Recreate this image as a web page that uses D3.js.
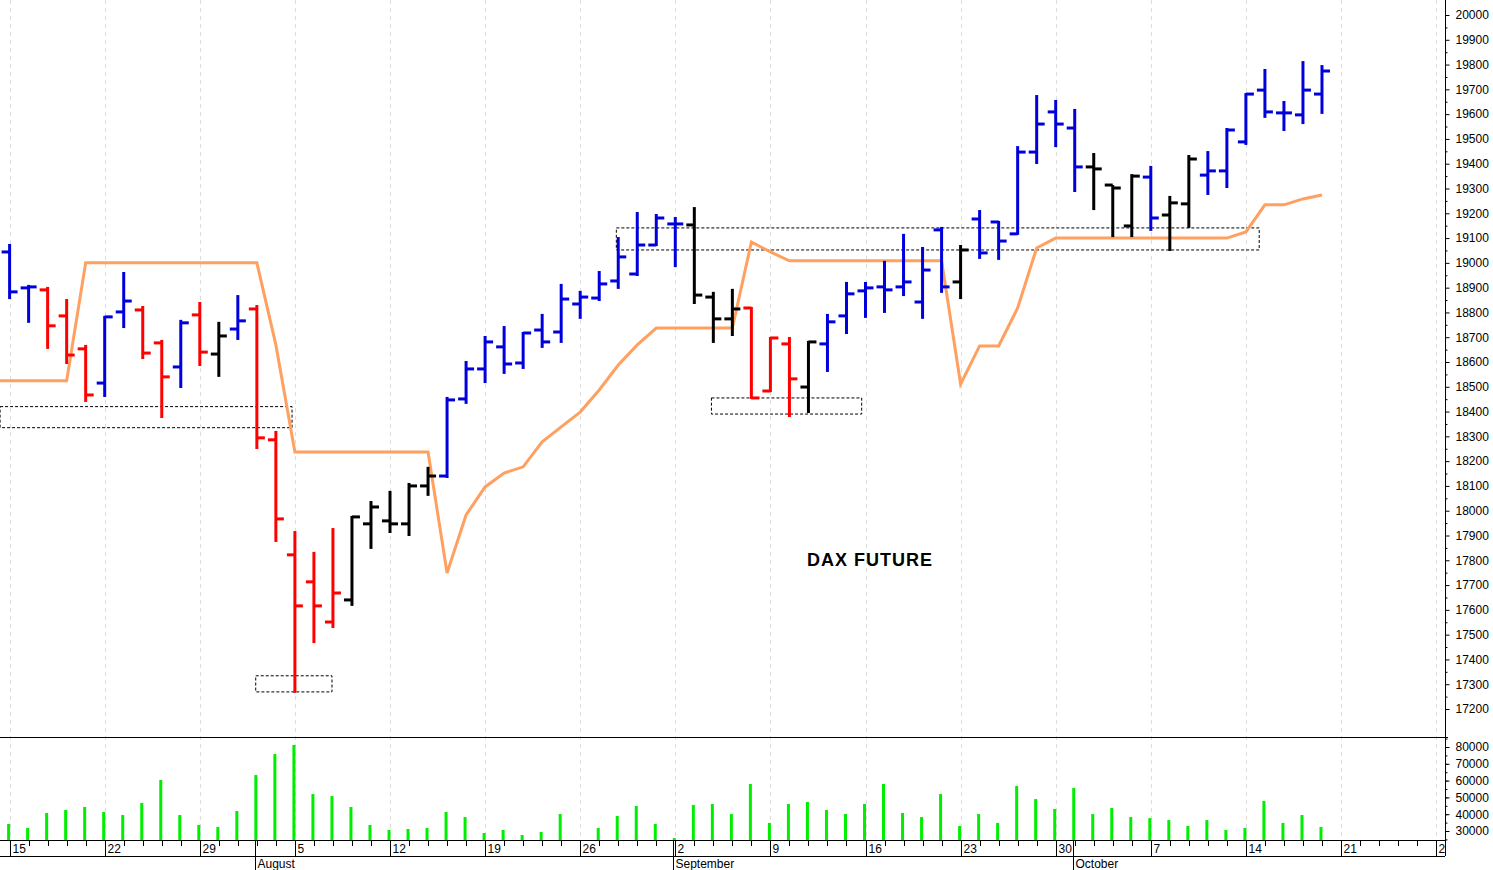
<!DOCTYPE html>
<html><head><meta charset="utf-8">
<script src="https://cdn.jsdelivr.net/npm/d3@7"></script>
<style>body{margin:0;background:#fff}svg{display:block;font-family:Arial,"Liberation Sans",sans-serif}</style>
</head><body><svg id="c" width="1493" height="870"></svg>
<script>
const opens=[19044,18899,18891,18786,18653,18515,18802,18810,18677,18580,18790,18632,18733,18814,18286,17822,17713,17551,17640,17947,17959,17947,18100,18140,18451,18572,18661,18596,18729,18721,18834,18858,18927,18955,19072,19157,19153,18862,18774,18818,18483,18673,18499,18673,18786,18887,18903,18903,18842,19133,18923,19177,19165,19117,19447,19609,19544,19387,19314,19149,19346,19193,19238,19354,19371,19488,19697,19605,19597,19681];
const highs=[19072,18907,18899,18850,18665,18782,18959,18822,18685,18766,18838,18758,18866,18826,18318,17914,17830,17926,17975,18035,18076,18108,18173,18455,18600,18701,18741,18717,18790,18911,18883,18963,19100,19201,19193,19181,19221,18879,18891,18818,18697,18697,18681,18790,18919,18919,19004,19113,19060,19141,19068,19209,19165,19467,19673,19653,19617,19439,19310,19354,19387,19266,19431,19447,19540,19681,19778,19649,19810,19794];
const lows=[18858,18762,18657,18596,18443,18463,18741,18616,18378,18499,18588,18544,18693,18253,17878,17269,17470,17531,17620,17850,17914,17902,18064,18136,18435,18519,18556,18576,18661,18681,18778,18850,18899,18951,19072,18987,18838,18681,18709,18455,18483,18382,18398,18564,18717,18782,18802,18870,18778,18883,18858,19020,19016,19117,19403,19471,19290,19217,19108,19108,19133,19052,19145,19278,19306,19480,19589,19536,19564,19605];
const closes=[18883,18903,18746,18628,18467,18782,18846,18636,18540,18758,18640,18705,18766,18294,17967,17616,17616,17668,17975,18015,17947,18100,18140,18447,18572,18681,18592,18717,18681,18854,18862,18915,19024,19072,19181,19157,18870,18774,18814,18455,18697,18532,18681,18762,18875,18899,18891,18923,18971,18903,19052,19040,19088,19447,19560,19560,19387,19379,19302,19350,19181,19242,19419,19371,19536,19681,19609,19605,19697,19774];
const barColors="bbrrrbbrrbrkbrrrrrkkkkkbbbbbbbbbbbbbkkkrrrkbbbbbbbkbbbbbbkkkbkkbbbbbbbbb";
const stopLine=[18524,18524,18524,18524,19000,19000,19000,19000,19000,19000,19000,19000,19000,19000,18669,18237,18237,18237,18237,18237,18237,18237,18237,17749,17983,18096,18152,18177,18278,18338,18398,18487,18588,18669,18737,18737,18737,18737,18737,19084,19044,19008,19008,19008,19008,19008,19008,19008,19008,19008,18511,18665,18665,18818,19060,19100,19100,19100,19100,19100,19100,19100,19100,19100,19100,19125,19234,19234,19258,19274];
const volumes=[34200,31800,40700,42500,44300,41300,39500,46700,60400,39500,33600,32400,41900,63300,75800,81200,52000,50800,44300,33600,30600,31200,31800,41300,38300,28800,30600,27600,29400,40100,24600,31800,38900,44900,34200,25800,45500,46100,40100,58000,34800,46100,47300,42500,40100,46100,58000,40700,38300,52000,33000,40100,34800,56800,49000,43100,55600,40100,43700,38300,37700,36500,33000,36500,30600,31800,47900,34800,39500,32400];
const weekLabels=["15","22","29","5","12","19","26","2","9","16","23","30","7","14","21","28"];
const weekIdx=[0,5,10,15,20,25,30,35,40,45,50,55,60,65,70,75];
const monthLabels=["August","September","October"];
const monthIdx=[13,35,56];
const priceTicks=d3.range(17200,20001,100);
const volTicks=[30000,40000,50000,60000,70000,80000];
const boxes=[[-0.5,14.85,18335,18420],[12.94,16.95,17269,17334],[31.9,65.7,19052,19141],[36.9,44.8,18390,18455]];
const title="DAX FUTURE";

const svg=d3.select("#c");
const W=1445;
const x=d3.scaleLinear().domain([0,1]).range([9.6,28.62]);
const y=d3.scaleLinear().domain([17200,20000]).range([709,15]);
const yv=d3.scaleLinear().domain([30000,80000]).range([831,747]);
const col={b:"#0000dd",r:"#ff0000",k:"#000000"};

const g=svg.append("g");
weekIdx.forEach(i=>{const xx=Math.round(x(i))+0.5;if(xx<W)g.append("line").attr("x1",xx).attr("x2",xx).attr("y1",0).attr("y2",840).attr("stroke","#ddd").attr("stroke-dasharray","4,4");});

boxes.forEach(b=>svg.append("rect").attr("x",x(b[0])).attr("width",x(b[1])-x(b[0])).attr("y",y(b[3])).attr("height",y(b[2])-y(b[3])).attr("fill","none").attr("stroke","#000").attr("stroke-dasharray","3,2"));

svg.append("path").attr("d",d3.line().x((d,i)=>i===0?0:x(i)).y(d=>y(d))(stopLine)).attr("fill","none").attr("stroke","#ffa060").attr("stroke-width",3);

opens.forEach((o,i)=>{const c=col[barColors[i]],xx=x(i);
 const gg=svg.append("g").attr("stroke",c).attr("stroke-width",3);
 gg.append("line").attr("x1",xx).attr("x2",xx).attr("y1",y(highs[i])-1).attr("y2",y(lows[i])+1);
 gg.append("line").attr("x1",xx-8).attr("x2",xx).attr("y1",y(o)).attr("y2",y(o));
 gg.append("line").attr("x1",xx).attr("x2",xx+8).attr("y1",y(closes[i])).attr("y2",y(closes[i]));
});

volumes.forEach((v,i)=>svg.append("line").attr("x1",x(i)-1).attr("x2",x(i)-1).attr("y1",yv(v)).attr("y2",840).attr("stroke","#00ee00").attr("stroke-width",3));

svg.append("text").attr("x",870).attr("y",566).attr("text-anchor","middle").attr("font-size",18).attr("font-weight","bold").attr("letter-spacing",1).text(title);

svg.append("line").attr("x1",0).attr("x2",W+3).attr("y1",737.5).attr("y2",737.5).attr("stroke","#000");
svg.append("line").attr("x1",0).attr("x2",W).attr("y1",840.5).attr("y2",840.5).attr("stroke","#000");
svg.append("line").attr("x1",0).attr("x2",W).attr("y1",856.5).attr("y2",856.5).attr("stroke","#000");
svg.append("line").attr("x1",W+0.5).attr("x2",W+0.5).attr("y1",0).attr("y2",856).attr("stroke","#000");

const ax=svg.append("g").attr("transform",`translate(${W+0.5},0)`);
ax.call(d3.axisRight(y).tickValues(priceTicks).tickFormat(d3.format("d")).tickSize(4)).call(a=>a.select(".domain").remove()).selectAll("text").attr("font-size",12).attr("x",10).attr("font-family","Arial,Liberation Sans,sans-serif");
ax.append("g").call(d3.axisRight(y).tickValues(d3.range(17250,20000,100)).tickFormat("").tickSize(2)).select(".domain").remove();
const av=svg.append("g").attr("transform",`translate(${W+0.5},0)`);
av.call(d3.axisRight(yv).tickValues(volTicks).tickFormat(d3.format("d")).tickSize(4)).call(a=>a.select(".domain").remove()).selectAll("text").attr("font-size",12).attr("x",10).attr("font-family","Arial,Liberation Sans,sans-serif");
av.append("g").call(d3.axisRight(yv).tickValues(d3.range(25000,85001,5000)).tickFormat("").tickSize(2)).select(".domain").remove();

const xa=svg.append("g");
d3.range(0,78).forEach(i=>{const xx=Math.round(x(i))+0.5;if(xx<W)xa.append("line").attr("x1",xx).attr("x2",xx).attr("y1",841).attr("y2",846).attr("stroke","#000");});
weekIdx.forEach((i,k)=>{const xx=Math.round(x(i))+0.5;if(xx>W)return;
 xa.append("line").attr("x1",xx).attr("x2",xx).attr("y1",841).attr("y2",856).attr("stroke","#000");
 xa.append("text").attr("x",xx+2).attr("y",853).attr("font-size",12).text(weekLabels[k]);});
monthIdx.forEach((i,k)=>{const xx=Math.round(x(i)-2)+0.5;
 xa.append("line").attr("x1",xx).attr("x2",xx).attr("y1",841).attr("y2",870).attr("stroke","#000");
 xa.append("text").attr("x",xx+2).attr("y",868).attr("font-size",12).text(monthLabels[k]);});
svg.append("rect").attr("x",W+1).attr("y",841).attr("width",50).attr("height",30).attr("fill","#fff");
</script></body></html>
